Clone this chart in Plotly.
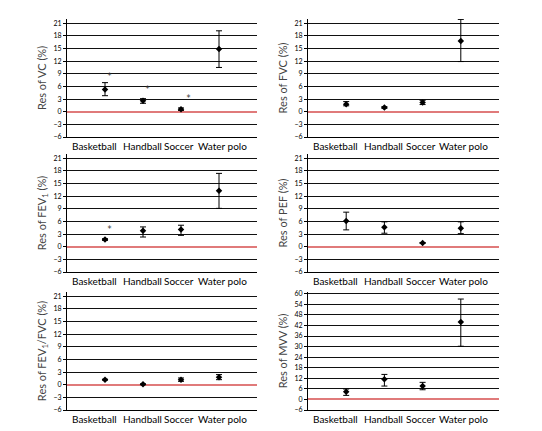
import plotly.graph_objects as go

categories = ["Basketball", "Handball", "Soccer", "Water polo"]

titles = ["Res of VC (%)", "Res of FVC (%)", "Res of FEV<sub>1</sub> (%)",
          "Res of PEF (%)", "Res of FEV<sub>1</sub>/FVC (%)", "Res of MVV (%)"]

vc_mean = [5.3, 2.6, 0.6, 14.9]
vc_low = [3.8, 2.0, 0.3, 10.5]
vc_high = [6.9, 3.1, 0.9, 19.2]

fvc_mean = [1.8, 1.0, 2.2, 16.8]
fvc_low = [1.4, 0.8, 1.7, 11.9]
fvc_high = [2.4, 1.2, 2.7, 21.9]

fev1_mean = [1.7, 3.8, 4.1, 13.3]
fev1_low = [1.5, 2.3, 2.7, 9.1]
fev1_high = [1.9, 4.7, 5.1, 17.4]

pef_mean = [6.1, 4.6, 0.9, 4.4]
pef_low = [4.0, 3.2, 0.8, 3.1]
pef_high = [8.2, 5.9, 1.0, 5.9]

ratio_mean = [1.2, 0.1, 1.2, 1.8]
ratio_low = [1.1, 0.0, 0.8, 1.2]
ratio_high = [1.3, 0.2, 1.6, 2.4]

mvv_mean = [4.4, 11.4, 7.6, 44.0]
mvv_low = [2.3, 7.6, 5.5, 30.2]
mvv_high = [5.9, 14.2, 9.7, 57.0]

# significance asterisks (value per category, None = none)
vc_star = [8.2, 5.1, 2.9, None]
fev1_star = [4.0, None, None, None]

panels = [
    (vc_mean, vc_low, vc_high, vc_star),
    (fvc_mean, fvc_low, fvc_high, None),
    (fev1_mean, fev1_low, fev1_high, fev1_star),
    (pef_mean, pef_low, pef_high, None),
    (ratio_mean, ratio_low, ratio_high, None),
    (mvv_mean, mvv_low, mvv_high, None),
]

# page body has an 8px margin, so the figure is drawn 8px right/down
OFF = 8
W, H = 542 - OFF, 431 - OFF
xdoms = [(67, 257), (308, 499)]
ydoms = [(19, 137), (154, 272), (292, 410)]
label_shift = [-11, -1, -2, 3]  # horizontal pixel nudges of category labels

FONT = "Lato"
fig = go.Figure()
xidx = list(range(len(categories)))
annotations = []

for i, (m, lo, hi, star) in enumerate(panels):
    n = i + 1
    xa = "x" if n == 1 else f"x{n}"
    ya = "y" if n == 1 else f"y{n}"
    fig.add_trace(go.Scatter(
        x=xidx, y=m, mode="markers", xaxis=xa, yaxis=ya,
        marker=dict(symbol="diamond", size=5, color="black"),
        error_y=dict(type="data", symmetric=False,
                     array=[h - v for h, v in zip(hi, m)],
                     arrayminus=[v - l for v, l in zip(m, lo)],
                     color="black", thickness=1, width=3),
        showlegend=False, hoverinfo="skip"))
    if star:
        sx = [k + 0.12 + (0.08 if k == 2 else 0) for k, s in enumerate(star) if s is not None]
        sy = [s for s in star if s is not None]
        fig.add_trace(go.Scatter(
            x=sx, y=sy, mode="text", text=["*"] * len(sy), xaxis=xa, yaxis=ya,
            textposition="middle center",
            textfont=dict(size=8, color="#333", family="DejaVu Sans"),
            showlegend=False, hoverinfo="skip"))

    r, c = divmod(i, 2)
    x0, x1 = [v - OFF for v in xdoms[c]]
    y0, y1 = [v - OFF for v in ydoms[r]]
    is_mvv = (n == 6)
    xkey = "xaxis" if n == 1 else f"xaxis{n}"
    ykey = "yaxis" if n == 1 else f"yaxis{n}"
    ymin = -6
    fig.update_layout(**{
        xkey: dict(domain=[x0 / W, x1 / W], anchor=ya, range=[-1, 4],
                   showticklabels=False, showgrid=False,
                   zeroline=False, showline=True, linecolor="black", linewidth=1,
                   ticks=""),
        ykey: dict(domain=[1 - y1 / H, 1 - y0 / H], anchor=xa,
                   range=[ymin, 61] if is_mvv else [ymin, 22],
                   tick0=-6, dtick=6 if is_mvv else 3,
                   showgrid=True, gridcolor="#111", gridwidth=1.3,
                   zeroline=True, zerolinecolor="#e07a7a", zerolinewidth=1.5,
                   showline=True, linecolor="black", linewidth=1,
                   ticks="outside", ticklen=3, tickcolor="black", automargin=False,
                   tickfont=dict(size=7, color="black", family=FONT),
                   title=dict(text=titles[i], font=dict(size=11, color="#444", family=FONT),
                              standoff=4)),
    })
    for k, cat in enumerate(categories):
        annotations.append(dict(
            x=k, y=ymin, xref=xa, yref=ya, text=cat, showarrow=False,
            xanchor="center", yanchor="top", yshift=-1, xshift=label_shift[k],
            font=dict(size=10, color="black", family=FONT)))

fig.update_layout(width=W, height=H, margin=dict(l=0, r=0, t=0, b=0),
                  plot_bgcolor="white", paper_bgcolor="white",
                  font=dict(family=FONT), annotations=annotations)
fig.write_html("out.html")
